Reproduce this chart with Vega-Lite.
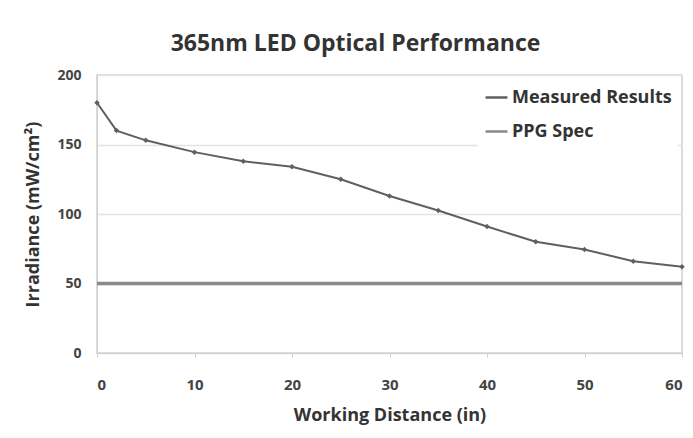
{
  "$schema": "https://vega.github.io/schema/vega-lite/v6.json",
  "autosize": "none",
  "width": 585,
  "height": 278,
  "padding": {"left": 97, "top": 75, "right": 11, "bottom": 85},
  "background": "white",
  "title": {
    "text": "365nm LED Optical Performance",
    "anchor": "middle",
    "dx": -34,
    "offset": 12,
    "fontSize": 23,
    "font": "Open Sans",
    "fontWeight": "bold",
    "color": "#333333"
  },
  "config": {
    "font": "Open Sans",
    "view": {"stroke": "#d0d0d0", "strokeWidth": 1.5},
    "axis": {
      "labelFont": "Open Sans",
      "labelFontWeight": "bold",
      "labelColor": "#444444",
      "titleFont": "Open Sans",
      "titleFontWeight": "bold",
      "titleColor": "#333333",
      "domainColor": "#d0d0d0",
      "tickColor": "#d0d0d0",
      "gridColor": "#e3e3e3",
      "gridWidth": 1.5
    }
  },
  "data": {
    "values": [
      {"series": "Measured Results", "distance": 0, "irradiance": 180},
      {"series": "Measured Results", "distance": 2, "irradiance": 160},
      {"series": "Measured Results", "distance": 5, "irradiance": 153},
      {"series": "Measured Results", "distance": 10, "irradiance": 144.5},
      {"series": "Measured Results", "distance": 15, "irradiance": 138},
      {"series": "Measured Results", "distance": 20, "irradiance": 134},
      {"series": "Measured Results", "distance": 25, "irradiance": 125},
      {"series": "Measured Results", "distance": 30, "irradiance": 113},
      {"series": "Measured Results", "distance": 35, "irradiance": 102.5},
      {"series": "Measured Results", "distance": 40, "irradiance": 91},
      {"series": "Measured Results", "distance": 45, "irradiance": 80},
      {"series": "Measured Results", "distance": 50, "irradiance": 74.5},
      {"series": "Measured Results", "distance": 55, "irradiance": 66},
      {"series": "Measured Results", "distance": 60, "irradiance": 62},
      {"series": "PPG Spec", "distance": 0, "irradiance": 50},
      {"series": "PPG Spec", "distance": 60, "irradiance": 50}
    ]
  },
  "layer": [
    {
      "transform": [{"filter": "datum.series === 'PPG Spec'"}],
      "mark": {"type": "line", "strokeWidth": 3.5},
      "encoding": {
        "x": {"field": "distance", "type": "quantitative"},
        "y": {"field": "irradiance", "type": "quantitative"},
        "color": {"field": "series", "type": "nominal"}
      }
    },
    {
      "transform": [{"filter": "datum.series === 'Measured Results'"}],
      "mark": {"type": "line", "strokeWidth": 2, "point": {"shape": "diamond", "filled": true, "size": 30}},
      "encoding": {
        "x": {
          "field": "distance",
          "type": "quantitative",
          "scale": {"domain": [0, 60], "nice": false},
          "axis": {
            "values": [0, 10, 20, 30, 40, 50, 60],
            "grid": false,
            "title": "Working Distance (in)",
            "titleFontSize": 18,
            "titlePadding": 14,
            "labelFontSize": 15,
            "labelPadding": 20,
            "tickSize": 4
          }
        },
        "y": {
          "field": "irradiance",
          "type": "quantitative",
          "scale": {"domain": [0, 200], "nice": false},
          "axis": {
            "values": [0, 50, 100, 150, 200],
            "title": "Irradiance (mW/cm²)",
            "titleFontSize": 18,
            "titlePadding": 14,
            "labelFontSize": 14,
            "labelPadding": 16,
            "ticks": false
          }
        },
        "color": {
          "field": "series",
          "type": "nominal",
          "scale": {"domain": ["Measured Results", "PPG Spec"], "range": ["#606060", "#8a8a8a"]},
          "legend": {
            "title": null,
            "orient": "top-right",
            "offset": 4,
            "symbolType": "stroke",
            "symbolSize": 480,
            "symbolStrokeWidth": 2.5,
            "labelFontSize": 18,
            "labelFont": "Open Sans",
            "labelColor": "#333333",
            "labelFontWeight": "bold",
            "labelLimit": 400,
            "labelOffset": 3,
            "rowPadding": 12,
            "fillColor": "white",
            "padding": 6
          }
        }
      }
    }
  ]
}
